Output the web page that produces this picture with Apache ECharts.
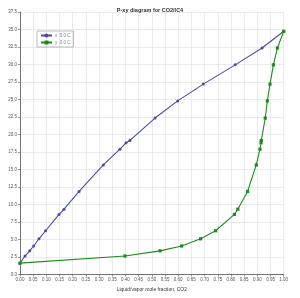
<!DOCTYPE html>
<html><head><meta charset="utf-8">
<script src="https://cdn.jsdelivr.net/npm/echarts@6/dist/echarts.min.js"></script>
<style>html,body{margin:0;padding:0;background:#fff}#c{width:300px;height:298px}</style>
</head><body><div id="c"></div>
<script>
const pressures = [1.62, 2.64, 3.38, 4.07, 5.1, 6.25, 8.58, 9.33, 11.87, 15.65, 17.9, 18.82, 19.15, 22.35, 24.8, 27.2, 29.95, 32.35, 34.75];
const liquidX = [0, 0.019, 0.037, 0.052, 0.072, 0.097, 0.148, 0.167, 0.224, 0.316, 0.379, 0.402, 0.417, 0.512, 0.598, 0.695, 0.816, 0.918, 1.0];
const vaporY = [0, 0.398, 0.531, 0.613, 0.685, 0.742, 0.813, 0.826, 0.863, 0.896, 0.910, 0.914, 0.915, 0.930, 0.938, 0.948, 0.961, 0.976, 1.0];
const seriesNames = ['x  0.0 C', 'y  0.0 C'];
const titleText = 'P-xy diagram for CO2/IC4';
const xName = 'Liquid/vapor mole fraction, CO2';
const yName = 'Pressure, bar';

const blue = '#4a4aae', green = '#1f8a1f';
const chart = echarts.init(document.getElementById('c'), null, {renderer: 'canvas'});
const font = 'Liberation Sans';
chart.setOption({
  animation: false,
  title: {text: titleText, left: 'center', top: 2, textStyle: {fontSize: 5.5, fontWeight: 'bold', color: '#333', fontFamily: font}},
  legend: {
    orient: 'vertical', left: 37, top: 31, padding: [2, 3, 2, 3], itemGap: 2,
    itemWidth: 11, itemHeight: 5, borderColor: '#aaa', borderWidth: 0.8,
    textStyle: {fontSize: 4.5, fontFamily: font, padding: [0, 0, 0, -2]},
    data: [{name: seriesNames[0], textStyle: {color: '#7078a8'}}, {name: seriesNames[1], textStyle: {color: '#6f9a6f'}}]
  },
  grid: {left: 20, right: 16.3, top: 12, bottom: 23.5, containLabel: false, outerBoundsMode: 'none'},
  xAxis: {
    type: 'value', min: 0, max: 1, interval: 0.05,
    name: xName, nameLocation: 'middle', nameGap: 11,
    nameTextStyle: {fontSize: 5, color: '#333', fontFamily: font},
    axisLine: {lineStyle: {color: '#555', width: 0.8}},
    axisTick: {show: true, length: 2, lineStyle: {color: '#555', width: 0.6}},
    axisLabel: {fontSize: 4.5, color: '#555', margin: 3, fontFamily: font, formatter: v => v.toFixed(2)},
    splitLine: {show: true, lineStyle: {color: '#e2e2e2', width: 0.7}}
  },
  yAxis: {
    type: 'value', min: 0, max: 37.5, interval: 2.5,
    name: yName, nameLocation: 'middle', nameGap: 13,
    nameTextStyle: {fontSize: 5, color: '#333', fontFamily: font},
    axisLine: {show: true, lineStyle: {color: '#555', width: 0.8}},
    axisTick: {show: true, length: 2, lineStyle: {color: '#555', width: 0.6}},
    axisLabel: {fontSize: 4.5, color: '#555', margin: 3, fontFamily: font, formatter: v => v.toFixed(1)},
    splitLine: {show: true, lineStyle: {color: '#e2e2e2', width: 0.7}}
  },
  series: [
    {name: seriesNames[0], type: 'line', data: liquidX.map((x, i) => [x, pressures[i]]),
     symbol: 'circle', symbolSize: 3, itemStyle: {color: blue}, lineStyle: {color: blue, width: 1.1}},
    {name: seriesNames[1], type: 'line', data: vaporY.map((x, i) => [x, pressures[i]]),
     symbol: 'rect', symbolSize: 3.2, itemStyle: {color: green}, lineStyle: {color: green, width: 1.1}}
  ]
});
</script></body></html>
